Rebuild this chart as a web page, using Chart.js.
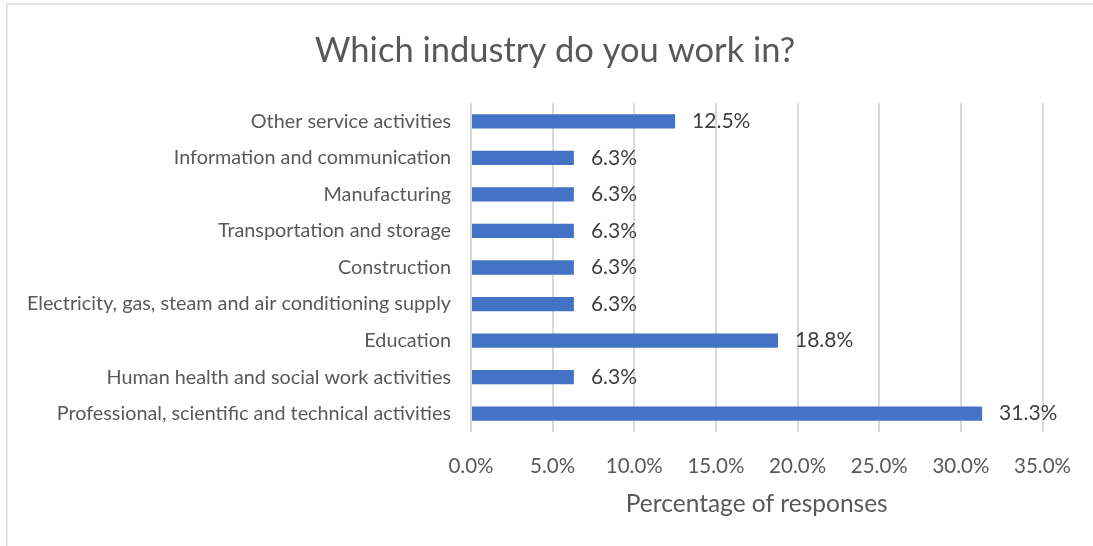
<!DOCTYPE html>
<html>
<head>
<meta charset="utf-8">
<title>Which industry do you work in?</title>
<script src="https://cdn.jsdelivr.net/npm/chart.js@4/dist/chart.umd.min.js"></script>
<style>
  html, body { margin: 0; padding: 0; background: #ffffff; }
  #wrap { width: 1093px; height: 546px; }
</style>
</head>
<body>
<div id="wrap"><canvas id="chart" width="1093" height="546"></canvas></div>
<script>
// Survey answers, listed top to bottom as they appear on the chart
const industries = [
  'Other service activities',
  'Information and communication',
  'Manufacturing',
  'Transportation and storage',
  'Construction',
  'Electricity, gas, steam and air conditioning supply',
  'Education',
  'Human health and social work activities',
  'Professional, scientific and technical activities'
];

// Share of responses, in percent
const shares = [12.5, 6.3, 6.3, 6.3, 6.3, 6.3, 18.8, 6.3, 31.3];

// Percentage axis ticks
const axisTicks = [0, 5, 10, 15, 20, 25, 30, 35];

const chartTitle = 'Which industry do you work in?';

const FONT = 'Lato, "Open Sans", "DejaVu Sans", sans-serif';

// White backdrop, thin frame and the heading, centred on the framed area
const frame = {
  id: 'frame',
  beforeDraw(chart) {
    const ctx = chart.ctx;
    ctx.save();
    ctx.fillStyle = '#ffffff';
    ctx.fillRect(0, 0, chart.width, chart.height);
    ctx.strokeStyle = '#d9d9d9';
    ctx.lineWidth = 1.5;
    ctx.strokeRect(6.75, 4.25, chart.width + 20, chart.height + 20);
    ctx.font = '34.5px ' + FONT;
    ctx.fillStyle = '#595959';
    ctx.textAlign = 'center';
    ctx.textBaseline = 'middle';
    ctx.fillText(chartTitle, 555, 50.5);
    ctx.restore();
  }
};

// Value labels just past the end of each bar
const valueLabels = {
  id: 'valueLabels',
  afterDatasetsDraw(chart) {
    const ctx = chart.ctx;
    const meta = chart.getDatasetMeta(0);
    ctx.save();
    ctx.font = '21px ' + FONT;
    ctx.fillStyle = '#404040';
    ctx.textAlign = 'left';
    ctx.textBaseline = 'middle';
    meta.data.forEach((bar, i) => {
      const v = chart.data.datasets[0].data[i];
      ctx.fillText(v.toFixed(1) + '%', bar.x + 17, bar.y);
    });
    ctx.restore();
  }
};

new Chart(document.getElementById('chart'), {
  type: 'bar',
  data: {
    labels: industries,
    datasets: [{
      data: shares,
      backgroundColor: '#4472c4',
      borderWidth: 0,
      categoryPercentage: 1.0,
      barPercentage: 0.39
    }]
  },
  plugins: [frame, valueLabels],
  options: {
    indexAxis: 'y',
    responsive: false,
    devicePixelRatio: 1,
    animation: false,
    layout: { padding: { left: 0, right: 48, top: 103, bottom: 0 } },
    plugins: {
      legend: { display: false },
      tooltip: { enabled: false },
      title: { display: false }
    },
    scales: {
      x: {
        type: 'linear',
        min: 0,
        max: 35,
        afterBuildTicks(scale) {
          scale.ticks = axisTicks.map(v => ({ value: v }));
        },
        afterFit(scale) {
          scale.height = 114;
        },
        grid: { color: '#d9d9d9', lineWidth: 2, drawTicks: false },
        border: { display: false },
        ticks: {
          padding: 22,
          color: '#595959',
          font: { family: FONT, size: 20.5 },
          callback: v => Number(v).toFixed(1) + '%'
        },
        title: {
          display: true,
          text: 'Percentage of responses',
          color: '#595959',
          font: { family: FONT, size: 24.5 },
          padding: { top: 0, bottom: 27 }
        }
      },
      y: {
        afterFit(scale) {
          scale.width = 471;
        },
        grid: { display: false, drawTicks: false },
        border: { display: false },
        ticks: {
          padding: 20,
          color: '#595959',
          font: { family: FONT, size: 19.8 },
          autoSkip: false
        }
      }
    }
  }
});
</script>
</body>
</html>
